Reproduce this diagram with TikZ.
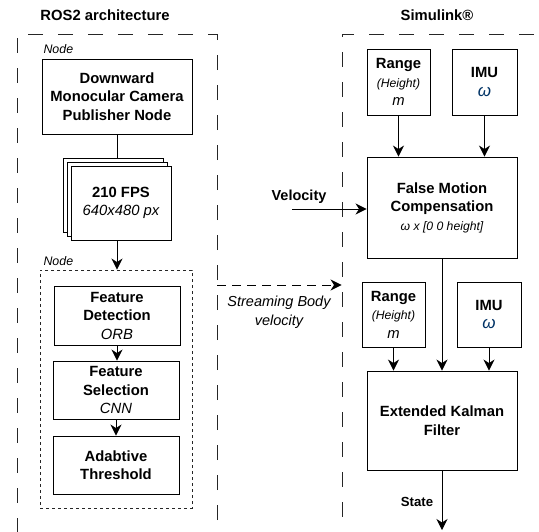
\documentclass[tikz,border=0pt]{standalone}
\usepackage{fontspec}
\setmainfont{Liberation Sans}
\usetikzlibrary{positioning}
\usetikzlibrary{arrows.meta}
\definecolor{omegablue}{RGB}{0,51,102}
\newcommand{\subit}[1]{{\mdseries\itshape #1}}
\newcommand{\subsm}[1]{{\mdseries\itshape\fontsize{12.2}{17}\selectfont #1}}
\newcommand{\omg}{{\mdseries\itshape\fontsize{17}{18}\selectfont\color{omegablue}ω}}
\tikzset{
    mybox/.style = {rectangle, draw=black, line width=0.9pt, fill=white, align=center, inner sep=0pt, font=\bfseries\fontsize{14.8}{18.5}\selectfont, text=black},
    myframe/.style = {mybox, minimum width=100pt, minimum height=74pt},
    myarea/.style = {rectangle, draw=black!85, line width=0.9pt, dash pattern=on 15pt off 15pt},
    mynodebox/.style = {rectangle, draw=black!85, line width=0.9pt, dash pattern=on 3pt off 3pt},
    mytitle/.style = {font=\bfseries\fontsize{14.8}{17}\selectfont},
    mytag/.style = {anchor=west, font=\itshape\fontsize{12.4}{14}\selectfont},
    mylabel/.style = {font=\bfseries\fontsize{14.5}{17}\selectfont},
    edgen/.style = {-, line width=0.9pt, black},
    edgea/.style = {-{Stealth[length=11pt,width=11pt,inset=3.5pt]}, line width=0.9pt, black},
    edged/.style = {edgea, dash pattern=on 9pt off 6pt}, % streamed
}
\begin{document}
\begin{tikzpicture}[x=1pt,y=-1pt]
\useasboundingbox (0,0) rectangle (539,531);
\clip (0,0) rectangle (539,531);
\node[mytitle] at (105,15) (rostitle) {ROS2 architecture};
\node[mytitle] at (437,15) (simtitle) {Simulink®};
\node[myarea, minimum width=200pt, minimum height=526pt] at (117,297) (rosarea) {};
\node[myarea, minimum width=238pt, minimum height=526pt] at (461,297) (simarea) {};

% ROS2 side
\node[mytag] at (40,49) (camtag) {Node};
\node[mybox, minimum width=150pt, minimum height=75pt] at (117,96.5) (camera) {Downward\\Monocular Camera\\Publisher Node};
\node[myframe] at (113,195) (frameb) {};
\node[myframe] at (117,199) (framem) {};
\node[myframe] at (121,203) (framef) {210 FPS\\\subit{640x480 px}};
\node[mytag] at (40,261) (feattag) {Node};
\node[mynodebox, minimum width=152pt, minimum height=238pt] at (116,389) (featnode) {};
\node[mybox, minimum width=126pt, minimum height=59pt] at (117,315.5) (detect) {Feature\\Detection\\\subit{ORB}};
\node[mybox, minimum width=126pt, minimum height=58pt] at (116,390) (select) {Feature\\Selection\\\subit{CNN}};
\node[mybox, minimum width=126pt, minimum height=58pt] at (116,465) (thresh) {Adabtive\\Threshold};

\draw[edgen] (camera.south) -- (camera.south |- frameb.north);
\draw[edgea] (camera.south |- framef.south) -- (camera.south |- featnode.north);
\draw[edgea] (detect.south) -- (detect.south |- select.north);
\draw[edgea] (select.south) -- (thresh.north);

% streaming
\coordinate (sbv) at (217,285);
\draw[edged] (sbv) -- (simarea.west |- sbv);
\node[font=\itshape\fontsize{14.5}{19}\selectfont, align=center] at (279,312) (sbvlabel) {Streaming Body\\velocity};

% Simulink side
\node[mybox, minimum width=63pt, minimum height=66pt] at (398.5,82) (range1) {Range\\\subsm{(Height)}\\\subit{m}};
\node[mybox, minimum width=65pt, minimum height=66pt] at (484.5,82) (imu1) {IMU\\\omg};
\node[mybox, minimum width=150pt, minimum height=101pt] at (442,207.5) (fmc) {False Motion\\Compensation\\\subsm{ω x [0 0 height]}};
\node[mybox, minimum width=63pt, minimum height=65pt] at (393.5,314.5) (range2) {Range\\\subsm{(Height)}\\\subit{m}};
\node[mybox, minimum width=64pt, minimum height=65pt] at (489,314.5) (imu2) {IMU\\\omg};
\node[mybox, minimum width=150pt, minimum height=99pt] at (442,420.5) (ekf) {Extended Kalman\\Filter};

\coordinate (vel) at (292,209);
\node[mylabel] at (299,197) (vellabel) {Velocity};
\draw[edgea] (vel) -- (fmc.west |- vel);
\draw[edgea] (range1.south) -- (range1.south |- fmc.north);
\draw[edgea] (imu1.south) -- (imu1.south |- fmc.north);
\draw[edgea] (fmc.south) -- (ekf.north);
\draw[edgea] (range2.south) -- (range2.south |- ekf.north);
\draw[edgea] (imu2.south) -- (imu2.south |- ekf.north);
\coordinate (state) at (442,530);
\draw[edgea] (ekf.south) -- (state);
\node[font=\bfseries\fontsize{13.2}{16}\selectfont] at (417,502) (statelabel) {State};
\end{tikzpicture}
\end{document}
